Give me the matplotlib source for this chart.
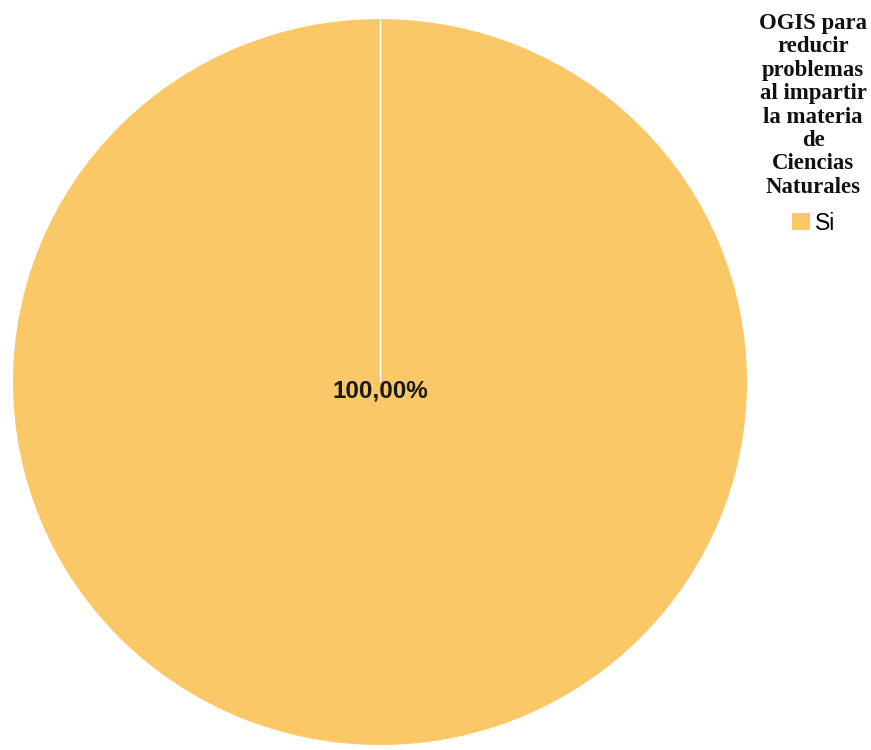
import matplotlib
matplotlib.use("Agg")
import matplotlib.pyplot as plt
from matplotlib.patches import Patch
import numpy as np

categories = ["Si"]
values = [1.0]
value_labels = ["100,00%"]
legend_title = "OGIS para\nreducir\nproblemas\nal impartir\nla materia\nde\nCiencias\nNaturales"
slice_colors = ["#FBC868"]
start_angle = 90

W, H = 871, 750
fig = plt.figure(figsize=(W / 100, H / 100), dpi=100)
fig.patch.set_facecolor("white")

# pie area in pixel coordinates
left, right, top, bottom = 13, 747, 19, 745
ax = fig.add_axes([left / W, (H - bottom) / H, (right - left) / W, (bottom - top) / H])

wedges, _ = ax.pie(values, colors=slice_colors, startangle=start_angle, counterclock=False,
                   wedgeprops=dict(edgecolor="none", linewidth=0))
ax.set_aspect("auto")
ax.set_xlim(-1.0, 1.0)
ax.set_ylim(-1.0, 1.0)

# slice boundary (single slice closes on itself at the start angle)
theta = np.deg2rad(start_angle)
ax.plot([0, np.cos(theta)], [0, np.sin(theta)], color="white", lw=1.0, solid_capstyle="butt")

for lab in value_labels:
    ax.text(0, -0.024, lab, ha="center", va="center", fontsize=17.5, weight="bold",
            family="Liberation Sans", color="#1a1a1a")

# legend title
fig.text(813 / W, 1 - 13 / H, legend_title, ha="center", va="top",
         multialignment="center", family="Liberation Serif", weight="bold",
         fontsize=16.4, linespacing=1.15, color="#111111")

handles = [Patch(facecolor=c, edgecolor="none") for c in slice_colors]
leg = fig.legend(handles, categories, loc="center",
                 bbox_to_anchor=(813.5 / W, 1 - 223 / H), frameon=False,
                 prop=dict(family="Liberation Sans", size=16.5),
                 handlelength=0.78, handleheight=0.78, handletextpad=0.22,
                 borderpad=0.0)

fig.savefig("out.png", dpi=100, facecolor="white")
